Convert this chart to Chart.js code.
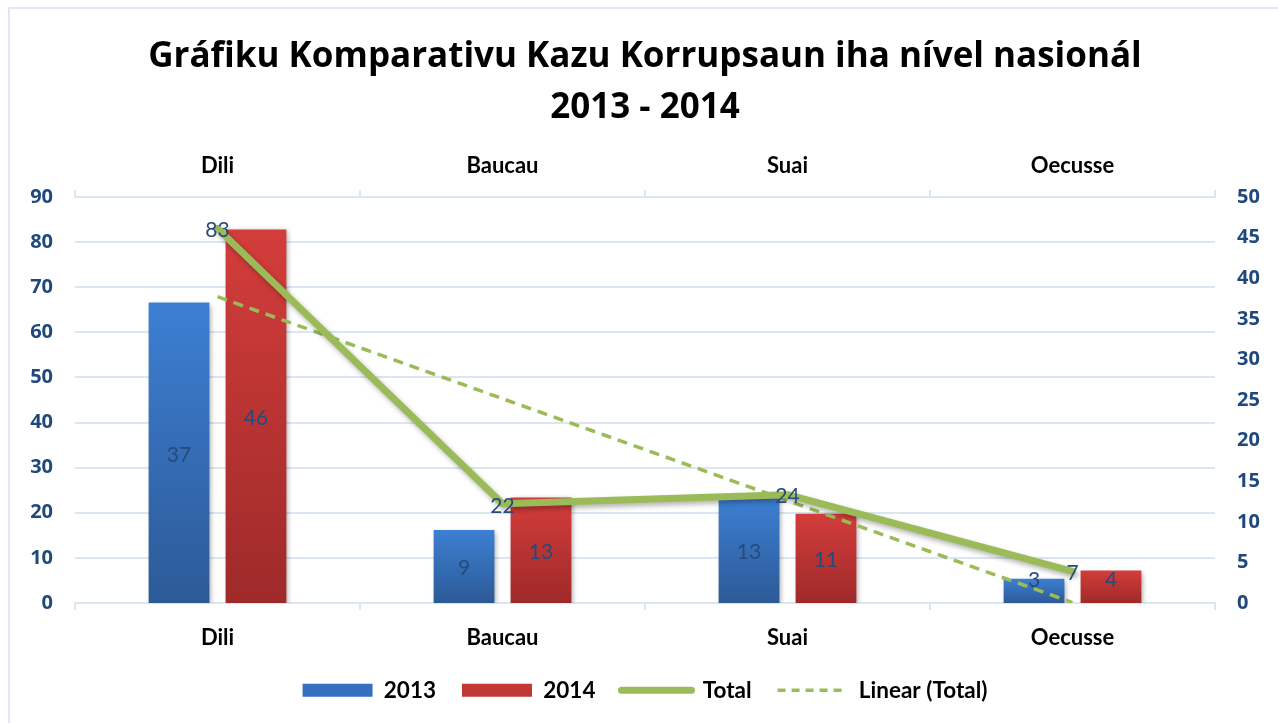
<!DOCTYPE html>
<html>
<head>
<meta charset="utf-8">
<script src="https://cdn.jsdelivr.net/npm/chart.js@4"></script>
<style>
  html, body { margin:0; padding:0; background:#ffffff; overflow:hidden; width:1278px; height:723px; }
  #frame { position:absolute; left:8px; top:7px; width:1400px; height:800px; border:2px solid #dfe8f3; box-sizing:border-box; }
  #wrap { position:absolute; left:8px; top:7px; width:1274px; height:716px; }
</style>
</head>
<body>
<div id="frame"></div>
<div id="wrap"><canvas id="c" width="1274" height="716"></canvas></div>
<script>
const categories = ['Dili', 'Baucau', 'Suai', 'Oecusse'];
const values2013 = [37, 9, 13, 3];
const values2014 = [46, 13, 11, 4];
const totalValues = [83, 22, 24, 7];
const linearTotal = [67.9, 45.3, 22.7, 0.1];
const titleLines = ['Gráfiku Komparativu Kazu Korrupsaun iha nível nasionál', '2013 - 2014'];
const seriesNames = ['2013', '2014', 'Total', 'Linear (Total)'];

const GREEN = '#9bbb59';
const GRID = '#dce6f2';
const TICKCOL = '#1f497d';
const LABELCOL = '#264a7c';

function barGrad(top, bottom) {
  return (ctx) => {
    const c = ctx.chart;
    if (!c.chartArea || ctx.type !== 'data') return top;
    const s = c.scales.y1;
    const y0 = s.getPixelForValue(ctx.raw);
    const y1 = s.getPixelForValue(0);
    const g = c.ctx.createLinearGradient(0, y0, 0, y1);
    g.addColorStop(0, top);
    g.addColorStop(1, bottom);
    return g;
  };
}

const shadowPlugin = {
  id: 'shadowPlugin',
  beforeDatasetDraw(chart, args) {
    const ctx = chart.ctx;
    ctx.save();
    const i = args.index;
    if (i === 0 || i === 1) {
      ctx.shadowColor = 'rgba(0,0,0,0.35)';
      ctx.shadowBlur = 5;
      ctx.shadowOffsetX = 2;
      ctx.shadowOffsetY = 2;
    } else if (i === 2) {
      ctx.shadowColor = 'rgba(0,0,0,0.3)';
      ctx.shadowBlur = 5;
      ctx.shadowOffsetX = 2;
      ctx.shadowOffsetY = 3;
    }
  },
  afterDatasetDraw(chart) {
    chart.ctx.restore();
  }
};

const labelPlugin = {
  id: 'labelPlugin',
  afterDatasetsDraw(chart) {
    const ctx = chart.ctx;
    ctx.save();
    ctx.textAlign = 'center';
    ctx.textBaseline = 'middle';
    ctx.fillStyle = LABELCOL;
    ctx.font = '21px Lato';
    [0, 1].forEach(di => {
      const meta = chart.getDatasetMeta(di);
      meta.data.forEach((el, k) => {
        const mid = (el.y + el.base) / 2;
        const y = Math.min(mid + 2, el.base - 23);
        ctx.fillText(String(chart.data.datasets[di].data[k]), el.x, y);
      });
    });
    const meta = chart.getDatasetMeta(2);
    meta.data.forEach((el, k) => {
      ctx.fillText(String(chart.data.datasets[2].data[k]), el.x, el.y + 2);
    });
    ctx.restore();
  }
};

const ctx = document.getElementById('c').getContext('2d');
new Chart(ctx, {
  data: {
    labels: categories,
    datasets: [
      { type: 'bar', label: seriesNames[0], data: values2013, yAxisID: 'y1', xAxisID: 'x',
        backgroundColor: barGrad('#3d7fd3', '#2c5a97'), borderWidth: 0, order: 2,
        categoryPercentage: 0.54, barPercentage: 0.79 },
      { type: 'bar', label: seriesNames[1], data: values2014, yAxisID: 'y1', xAxisID: 'x',
        backgroundColor: barGrad('#d33d3b', '#9e2a29'), borderWidth: 0, order: 3,
        categoryPercentage: 0.54, barPercentage: 0.79 },
      { type: 'line', label: seriesNames[2], data: totalValues, yAxisID: 'y', xAxisID: 'x',
        borderColor: GREEN, borderWidth: 7, pointRadius: 0, tension: 0, fill: false,
        borderJoinStyle: 'round', borderCapStyle: 'round', order: 0 },
      { type: 'line', label: seriesNames[3], data: linearTotal, yAxisID: 'y', xAxisID: 'x',
        borderColor: GREEN, borderWidth: 3.5, borderDash: [10, 7], pointRadius: 0, tension: 0,
        fill: false, order: 1 }
    ]
  },
  options: {
    responsive: false,
    animation: false,
    events: [],
    layout: { padding: { top: 24.6, bottom: 11.5, left: 0, right: 0 } },
    plugins: {
      tooltip: { enabled: false },
      title: {
        display: true,
        text: titleLines,
        color: '#000000',
        font: { family: 'Open Sans', size: 35, weight: 'bold', lineHeight: 1.45 },
        padding: { top: 0, bottom: 7.9 }
      },
      legend: {
        position: 'bottom',
        labels: {
          usePointStyle: true,
          pointStyleWidth: 70,
          boxWidth: 70,
          boxHeight: 13,
          padding: 26,
          color: '#000000',
          font: { family: 'Lato', size: 22.5, weight: 'bold' },
          generateLabels(chart) {
            return [
              { text: seriesNames[0], fillStyle: '#356fbf', strokeStyle: '#356fbf', lineWidth: 0, pointStyle: 'rect', datasetIndex: 0, hidden: false, fontColor: '#000' },
              { text: seriesNames[1], fillStyle: '#c13836', strokeStyle: '#c13836', lineWidth: 0, pointStyle: 'rect', datasetIndex: 1, hidden: false, fontColor: '#000' },
              { text: seriesNames[2], fillStyle: 'rgba(0,0,0,0)', strokeStyle: GREEN, lineWidth: 7, lineCap: 'round', pointStyle: 'line', datasetIndex: 2, hidden: false, fontColor: '#000' },
              { text: seriesNames[3], fillStyle: 'rgba(0,0,0,0)', strokeStyle: GREEN, lineWidth: 3.5, lineDash: [8, 6], lineCap: 'butt', pointStyle: 'line', datasetIndex: 3, hidden: false, fontColor: '#000' }
            ];
          }
        }
      }
    },
    scales: {
      x: {
        type: 'category',
        position: 'bottom',
        offset: true,
        grid: { display: true, drawOnChartArea: false, drawTicks: true, tickLength: 7, color: GRID, lineWidth: 2, offset: true },
        border: { display: true, color: GRID, width: 2 },
        ticks: { color: '#000000', font: { family: 'Lato', size: 22, weight: 'bold' }, padding: 15, maxRotation: 0 },
        afterFit(scale) { scale.height = 50; }
      },
      x2: {
        type: 'category',
        labels: categories,
        position: 'top',
        offset: true,
        grid: { display: true, drawOnChartArea: false, drawTicks: true, tickLength: 7, color: GRID, lineWidth: 2, offset: true },
        border: { display: true, color: GRID, width: 2 },
        ticks: { color: '#000000', font: { family: 'Lato', size: 22, weight: 'bold' }, padding: 11, maxRotation: 0 },
        afterFit(scale) { scale.height = 56; }
      },
      y: {
        position: 'left',
        min: 0, max: 90,
        ticks: { stepSize: 10, color: TICKCOL, font: { family: 'Open Sans', size: 20, weight: 'bold' }, padding: 22 },
        grid: { color: GRID, lineWidth: 2, drawTicks: false },
        border: { display: false },
        afterFit(scale) { scale.width = 67; }
      },
      y1: {
        position: 'right',
        min: 0, max: 50,
        ticks: { stepSize: 5, color: TICKCOL, font: { family: 'Open Sans', size: 20, weight: 'bold' }, padding: 22 },
        grid: { display: false, drawOnChartArea: false, drawTicks: false },
        border: { display: false },
        afterFit(scale) { scale.width = 67; }
      }
    }
  },
  plugins: [shadowPlugin, labelPlugin]
});
</script>
</body>
</html>
